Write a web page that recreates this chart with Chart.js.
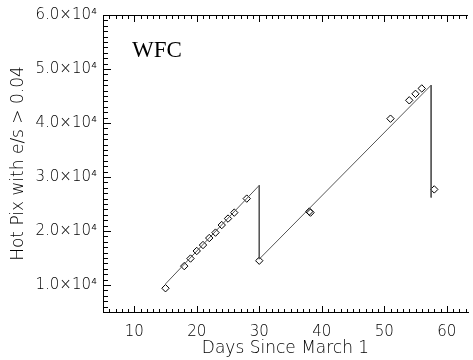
<!DOCTYPE html>
<html><head><meta charset="utf-8">
<script src="https://cdn.jsdelivr.net/npm/chart.js@4"></script>
<style>html,body{margin:0;padding:0;background:#fff;overflow:hidden}</style>
</head><body>
<canvas id="c" width="473" height="360"></canvas>
<script>
// measured hot pixel counts
const days   = [15, 18, 19, 20, 21, 22, 23, 24, 25, 26, 28, 30, 38, 38.2, 51, 54, 55, 56, 58];
const hotPix = [9400, 13500, 14900, 16300, 17400, 18700, 19700, 21100, 22300, 23400, 26000, 14500, 23600, 23400, 40800, 44200, 45400, 46400, 27700];
// sawtooth model line
const modelDays = [15, 30, 30, 57.5, 57.5];
const modelPix  = [10200, 28450, 14800, 47000, 26200];
// axes
const xTicks = [10, 20, 30, 40, 50, 60];
const xTickLabels = ['10', '20', '30', '40', '50', '60'];
const yTicks = [10000, 20000, 30000, 40000, 50000, 60000];
const yTickLabels = ['1.0×10⁴', '2.0×10⁴', '3.0×10⁴', '4.0×10⁴', '5.0×10⁴', '6.0×10⁴'];
const xRange = [5, 63.4];
const yRange = [5000, 60000];
const xMinorStep = 1;
const yMinorStep = 1000;
const panelLabel = 'WFC';
const xTitle = 'Days Since March 1';
const yTitle = 'Hot Pix with e/s > 0.04';

const FONT = "'DejaVu Sans', sans-serif";
const TXT = '#000';

const innerTicks = {
  id: 'innerTicks',
  afterDraw(chart) {
    const {ctx, chartArea: a, scales: {x, y}} = chart;
    ctx.save();
    ctx.fillStyle = '#000';
    const L = Math.round(a.left), R = Math.round(a.right);
    const T = Math.round(a.top), B = Math.round(a.bottom);
    ctx.fillRect(L, T, R - L, 1);
    for (let v = Math.ceil(x.min); v <= x.max + 1e-9; v += xMinorStep) {
      const px = Math.round(x.getPixelForValue(v));
      const len = xTicks.includes(v) ? 6 : 3;
      ctx.fillRect(px, B - len, 1, len);
      ctx.fillRect(px, T, 1, len + 1);
    }
    for (let v = yRange[0]; v <= y.max + 1e-9; v += yMinorStep) {
      const py = Math.round(y.getPixelForValue(v));
      const len = yTicks.includes(v) ? 7 : 4;
      ctx.fillRect(L, py, len + 1, 1);
    }
    ctx.font = "23px 'Liberation Serif', 'Times New Roman', serif";
    ctx.textBaseline = 'middle';
    ctx.textAlign = 'left';
    ctx.fillText(panelLabel, a.left + 29, a.top + 36);
    ctx.restore();
  }
};

new Chart(document.getElementById('c'), {
  type: 'scatter',
  data: {
    datasets: [
      {
        data: modelDays.map((d, i) => ({x: d, y: modelPix[i]})),
        showLine: true,
        borderColor: '#555',
        borderWidth: 1,
        pointRadius: 0,
        tension: 0
      },
      {
        data: days.map((d, i) => ({x: d, y: hotPix[i]})),
        showLine: false,
        pointStyle: 'rectRot',
        pointRadius: 3.7,
        borderColor: '#000',
        backgroundColor: 'rgba(0,0,0,0)',
        pointBorderWidth: 1
      }
    ]
  },
  options: {
    responsive: false,
    animation: false,
    layout: {padding: {top: 15, right: 0, left: 0, bottom: 0}},
    plugins: {legend: {display: false}, tooltip: {enabled: false}},
    scales: {
      x: {
        type: 'linear',
        min: xRange[0], max: xRange[1],
        afterBuildTicks: s => { s.ticks = xTicks.map(v => ({value: v})); },
        afterFit: s => { s.height = 48; },
        grid: {display: false, drawTicks: false},
        border: {display: true, color: '#000', width: 1},
        ticks: {
          padding: 11,
          color: TXT,
          font: {family: FONT, size: 15, weight: 200},
          callback: v => xTickLabels[xTicks.indexOf(v)],
          maxRotation: 0
        },
        title: {display: true, text: xTitle, color: TXT, font: {family: FONT, size: 17, weight: 200}, padding: {top: 0, bottom: 1}}
      },
      y: {
        type: 'linear',
        min: yRange[0], max: yRange[1],
        afterBuildTicks: s => { s.ticks = yTicks.map(v => ({value: v})); },
        afterFit: s => { s.width = 103; },
        grid: {display: false, drawTicks: false},
        border: {display: true, color: '#000', width: 1},
        ticks: {
          padding: 6,
          color: TXT,
          font: {family: FONT, size: 15, weight: 200},
          callback: v => yTickLabels[yTicks.indexOf(v)]
        },
        title: {display: true, text: yTitle, color: TXT, font: {family: FONT, size: 17, weight: 200}, padding: {top: 8, bottom: 0}}
      }
    }
  },
  plugins: [innerTicks]
});
</script>
</body></html>
